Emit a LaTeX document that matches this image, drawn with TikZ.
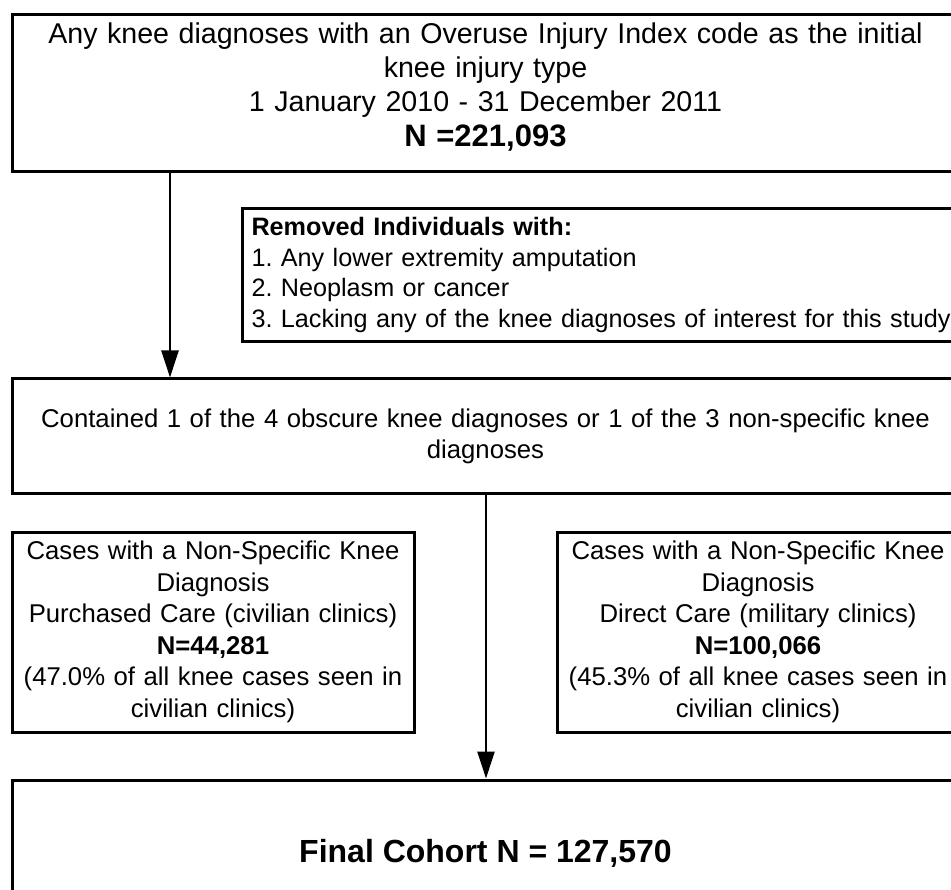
\documentclass[tikz,border=0pt]{standalone}
\usepackage{fontspec}
\setmainfont{Liberation Sans}
\usetikzlibrary{arrows.meta}
\frenchspacing
\begin{document}
\begin{tikzpicture}[x=1pt,y=-1pt,
  box/.style={draw=black, line width=3pt, rectangle, inner sep=0pt, align=center},
  topfont/.style={font=\fontsize{28.6}{34}\selectfont},
  bodyfont/.style={font=\fontsize{25.7}{31.5}\selectfont},
  remfont/.style={font=\fontsize{25.2}{30.8}\selectfont},
  arr/.style={draw=black, line width=2.6pt, -{Triangle[length=27pt,width=17pt]}}
]
\useasboundingbox (0,0) rectangle (951,890);
\clip (0,0) rectangle (951,890);

\node[box, topfont, minimum width=947, minimum height=157, text width=930] (top) at (485.5,93.5)
  {Any knee diagnoses with an Overuse Injury Index code as the initial\\
   knee injury type\\
   1 January 2010 - 31 December 2011\\[1pt]
   {\fontsize{31}{36}\selectfont\textbf{N =221,093}}\rule[-18pt]{0pt}{18pt}};

\node[box, remfont, anchor=north west, minimum height=133, text width=730, align=left, inner xsep=9pt] (rem) at (241,207)
  {\textbf{Removed Individuals with:}\\
   1. Any lower extremity amputation\\
   2. Neoplasm or cancer\\
   3. Lacking any of the knee diagnoses of interest for this study};

\node[box, bodyfont, minimum width=947, minimum height=115, text width=930] (mid) at (485.5,436.5)
  {Contained 1 of the 4 obscure knee diagnoses or 1 of the 3 non-specific knee\\
   diagnoses};

\node[box, bodyfont, minimum width=402, minimum height=200, text width=395] (left) at (213,632)
  {Cases with a Non-Specific Knee\\
   Diagnosis\\
   Purchased Care (civilian clinics)\\
   \textbf{N=44,281}\\
   (47.0\% of all knee cases seen in\\
   civilian clinics)};

\node[box, bodyfont, minimum width=402, minimum height=200, text width=395] (right) at (758,632)
  {Cases with a Non-Specific Knee\\
   Diagnosis\\
   Direct Care (military clinics)\\
   \textbf{N=100,066}\\
   (45.3\% of all knee cases seen in\\
   civilian clinics)};

\node[box, font=\fontsize{32}{38}\bfseries, minimum width=947, minimum height=146] (fin) at (485.5,853)
  {Final Cohort N = 127,570};

\coordinate (a1) at (170,0);
\coordinate (a2) at (486,0);
\draw[arr] (a1 |- top.south) -- (a1 |- mid.north);
\draw[arr] (a2 |- mid.south) -- (a2 |- fin.north);
\end{tikzpicture}
\end{document}
